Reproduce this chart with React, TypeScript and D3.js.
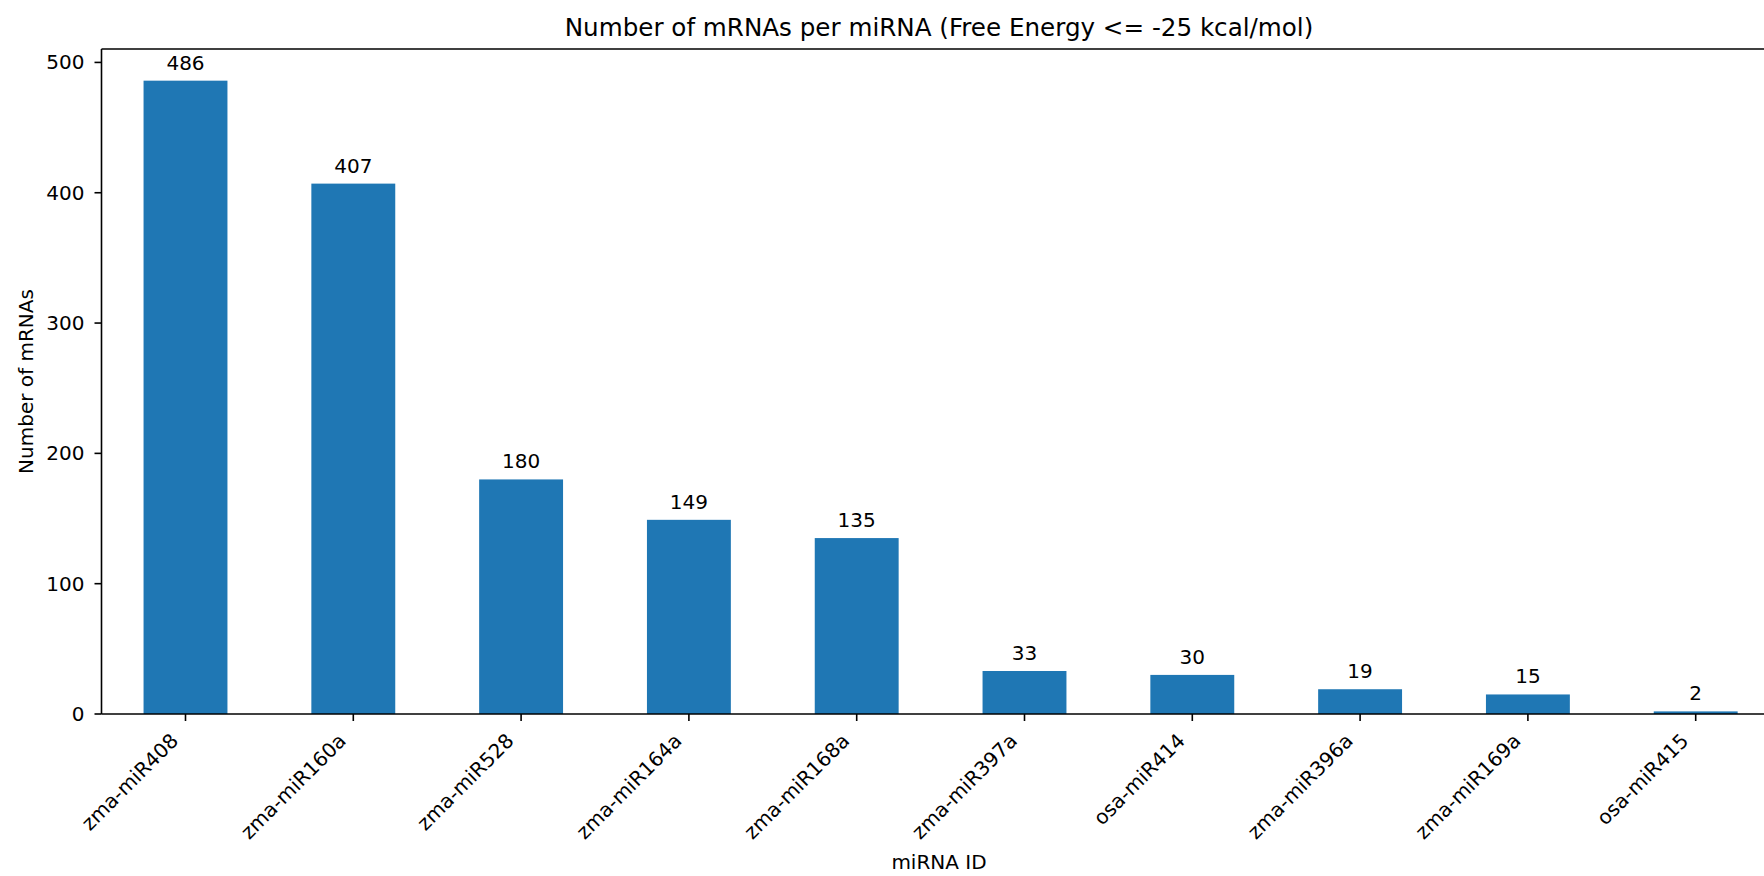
import React from "react";
import * as d3 from "d3";

const categories = [
  "zma-miR408",
  "zma-miR160a",
  "zma-miR528",
  "zma-miR164a",
  "zma-miR168a",
  "zma-miR397a",
  "osa-miR414",
  "zma-miR396a",
  "zma-miR169a",
  "osa-miR415",
];
const counts = [486, 407, 180, 149, 135, 33, 30, 19, 15, 2];
const yTicks = [0, 100, 200, 300, 400, 500];

const W = 1764;
const H = 876;
const FONT = "DejaVu Sans, sans-serif";
const BAR = "#1f77b4";

export default function App() {
  const left = 101.5;
  const top = 49;
  const bottom = 714;
  const tick0 = 185.5;
  const step = 167.8;
  const x = d3
    .scaleLinear()
    .domain([-0.5, 9.5])
    .range([tick0 - step / 2, tick0 + step * 9.5]);
  const yMax = d3.max(counts)! * 1.05;
  const y = d3.scaleLinear().domain([0, yMax]).range([bottom, top]);
  const right = x(9.5);
  const fs = 20;
  const tickLen = 7;

  return (
    <svg
      width={W}
      height={H}
      style={{ position: "fixed", left: 0, top: 0, background: "#fff" }}
      fontFamily={FONT}
    >
      <rect x={0} y={0} width={W} height={H} fill="#fff" />
      <text x={939} y={36} fontSize={24.6} textAnchor="middle" fill="#000">
        Number of mRNAs per miRNA (Free Energy &lt;= -25 kcal/mol)
      </text>
      {counts.map((v, i) => (
        <g key={categories[i]}>
          <rect
            x={x(i - 0.25)}
            y={y(v)}
            width={x(i + 0.25) - x(i - 0.25)}
            height={y(0) - y(v)}
            fill={BAR}
          />
          <text
            x={x(i)}
            y={y(v) - 11}
            fontSize={fs}
            textAnchor="middle"
            fill="#000"
          >
            {v}
          </text>
        </g>
      ))}
      {/* spines */}
      <line x1={left} x2={left} y1={top} y2={bottom} stroke="#000" strokeWidth={1.6} />
      <line x1={left} x2={right} y1={top} y2={top} stroke="#000" strokeWidth={1.6} />
      <line x1={left} x2={right} y1={bottom} y2={bottom} stroke="#000" strokeWidth={1.6} />
      <line x1={right} x2={right} y1={top} y2={bottom} stroke="#000" strokeWidth={1.6} />
      {/* y ticks */}
      {yTicks.map((t) => (
        <g key={t}>
          <line x1={left - tickLen} x2={left} y1={y(t)} y2={y(t)} stroke="#000" strokeWidth={1.6} />
          <text
            x={left - 17}
            y={y(t)}
            dy="0.35em"
            fontSize={fs}
            textAnchor="end"
            fill="#000"
          >
            {t}
          </text>
        </g>
      ))}
      {/* x ticks */}
      {categories.map((c, i) => {
        const tx = x(i);
        const ax = tx - 6;
        const ay = bottom + 28;
        return (
          <g key={c}>
            <line x1={tx} x2={tx} y1={bottom} y2={bottom + tickLen} stroke="#000" strokeWidth={1.6} />
            <text
              x={ax}
              y={ay}
              fontSize={fs}
              textAnchor="end"
              transform={`rotate(-45, ${ax}, ${ay})`}
              fill="#000"
            >
              {c}
            </text>
          </g>
        );
      })}
      <text x={939} y={869} fontSize={fs} textAnchor="middle" fill="#000">
        miRNA ID
      </text>
      <text
        transform={`translate(33, ${(top + bottom) / 2}) rotate(-90)`}
        fontSize={fs}
        textAnchor="middle"
        fill="#000"
      >
        Number of mRNAs
      </text>
    </svg>
  );
}
